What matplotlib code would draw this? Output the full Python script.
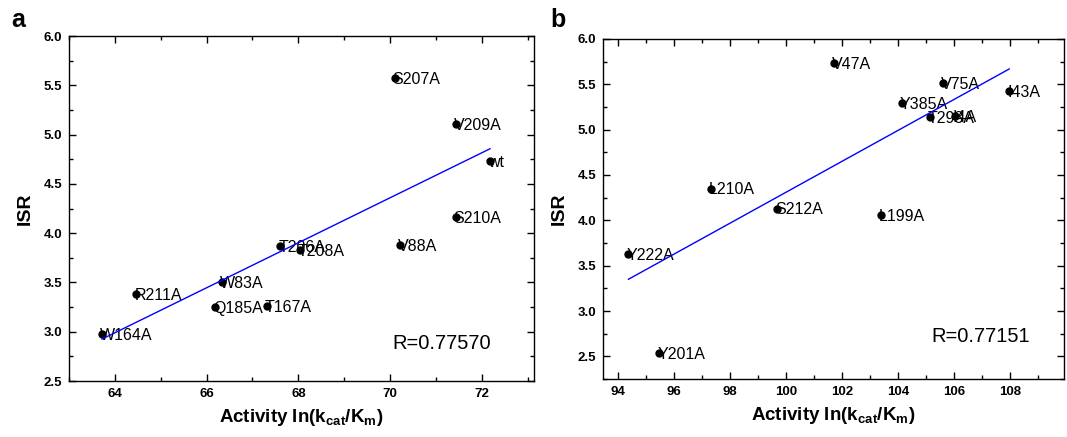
import numpy as np
import matplotlib
matplotlib.use('Agg')
import matplotlib.pyplot as plt
from matplotlib.ticker import MultipleLocator

plt.rcParams['font.family'] = ['Liberation Sans', 'DejaVu Sans']
plt.rcParams['mathtext.fontset'] = 'custom'
plt.rcParams['mathtext.rm'] = 'Liberation Sans'
plt.rcParams['mathtext.bf'] = 'Liberation Sans:bold'
plt.rcParams['mathtext.it'] = 'Liberation Sans:italic'

# panel a
a_names = ['W164A', 'R211A', 'Q185A', 'W83A', 'T167A', 'T206A', 'T208A',
           'S207A', 'V88A', 'V209A', 'S210A', 'wt']
a_activity = [63.72, 64.47, 66.18, 66.34, 67.31, 67.61, 68.04,
              70.10, 70.22, 71.43, 71.43, 72.18]
a_isr = [2.98, 3.38, 3.25, 3.50, 3.26, 3.87, 3.83,
         5.57, 3.88, 5.11, 4.16, 4.73]
a_r = 'R=0.77570'

# panel b
b_names = ['Y222A', 'Y201A', 'L210A', 'S212A', 'V47A', 'L199A', 'Y385A',
           'T293A', 'V75A', 'I4A', 'I43A']
b_activity = [94.36, 95.47, 97.31, 99.67, 101.71, 103.39, 104.14,
              105.14, 105.59, 106.03, 107.97]
b_isr = [3.63, 2.54, 4.35, 4.13, 5.73, 4.06, 5.29,
         5.14, 5.51, 5.15, 5.43]
b_r = 'R=0.77151'

XLABEL = r'Activity ln(k$_{\mathbf{cat}}$/K$_{\mathbf{m}}$)'


def style_axes(ax, xlim, ylim, xmajor):
    ax.set_xlim(xlim)
    ax.set_ylim(ylim)
    ax.xaxis.set_major_locator(MultipleLocator(xmajor))
    ax.xaxis.set_minor_locator(MultipleLocator(xmajor / 2))
    ax.yaxis.set_major_locator(MultipleLocator(0.5))
    ax.yaxis.set_minor_locator(MultipleLocator(0.25))
    ax.tick_params(which='both', direction='in', top=True, right=True, width=1.0)
    ax.tick_params(which='major', length=5, pad=5, labelsize=9.5)
    ax.tick_params(which='minor', length=2.7)
    for lbl in ax.get_xticklabels() + ax.get_yticklabels():
        lbl.set_fontweight('bold')
    for s in ax.spines.values():
        s.set_linewidth(1.0)
    ax.set_xlabel(XLABEL, fontsize=13.5, fontweight='bold', labelpad=5)
    ax.set_ylabel('ISR', fontsize=14, fontweight='bold', labelpad=7)


def draw_panel(ax, names, x, y, rtext, rpos):
    x = np.array(x)
    y = np.array(y)
    ax.plot(x, y, 'o', color='black', markersize=5, zorder=3)
    for n, xi, yi in zip(names, x, y):
        ax.annotate(n, (xi, yi), xytext=(-1.5, -1), textcoords='offset points',
                    ha='left', va='center', fontsize=11.5, zorder=2)
    k, b = np.polyfit(x, y, 1)
    xs = np.array([x.min(), x.max()])
    ax.plot(xs, k * xs + b, color='#0000ff', linewidth=1.0, zorder=4)
    ax.text(rpos[0], rpos[1], rtext, transform=ax.transAxes,
            ha='left', va='center', fontsize=14.5)


fig = plt.figure(figsize=(10.67, 4.37), dpi=100)
ax_a = fig.add_axes([0.0647, 0.1281, 0.4358, 0.7895])
ax_b = fig.add_axes([0.5651, 0.1327, 0.4321, 0.7781])

draw_panel(ax_a, a_names, a_activity, a_isr, a_r, (0.696, 0.110))
style_axes(ax_a, (63.0, 73.14), (2.5, 6.0), 2)

draw_panel(ax_b, b_names, b_activity, b_isr, b_r, (0.713, 0.126))
style_axes(ax_b, (93.45, 109.93), (2.25, 6.0), 2)

fig.text(0.011, 0.955, 'a', fontsize=18, fontweight='bold', ha='left', va='center')
fig.text(0.516, 0.955, 'b', fontsize=18, fontweight='bold', ha='left', va='center')

fig.savefig('out.png', dpi=100)
plt.close(fig)
